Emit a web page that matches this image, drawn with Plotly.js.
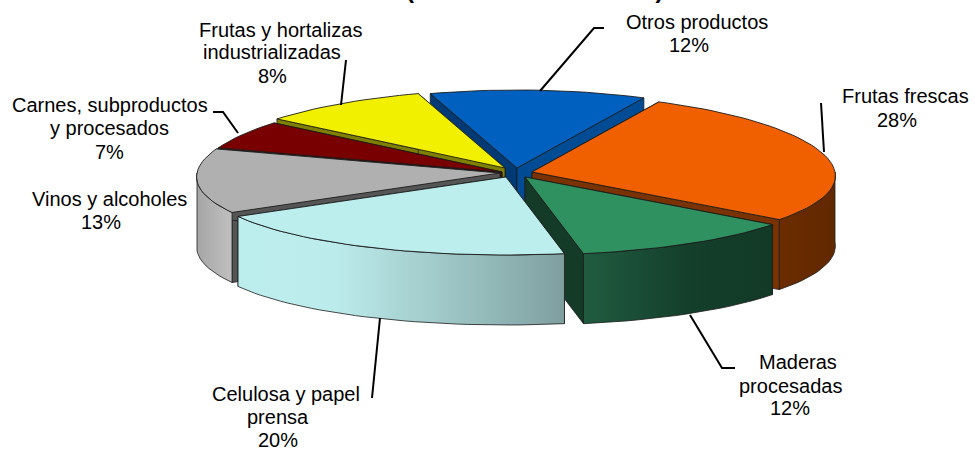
<!DOCTYPE html>
<html>
<head>
<meta charset="utf-8">
<script src="https://cdn.plot.ly/plotly-3.0.1.min.js"></script>
<style>html,body{margin:0;padding:0;background:#fff;overflow:hidden}</style>
</head>
<body>
<div id="chart" style="width:975px;height:450px"></div>
<script>
// Data, clockwise from the start of "Frutas frescas"
var categories = ["Frutas frescas","Maderas procesadas","Celulosa y papel prensa","Vinos y alcoholes","Carnes, subproductos y procesados","Frutas y hortalizas industrializadas","Otros productos"];
var values = [28,12,20,13,7,8,12];
var labelLines = [["Frutas frescas"],["Maderas","procesadas"],["Celulosa y papel","prensa"],["Vinos y alcoholes"],["Carnes, subproductos","y procesados"],["Frutas y hortalizas","industrializadas"],["Otros productos"]];
var titleText = "Valores (US$ Millones de FOB)";

// Styles
var topColors = ["#F06000","#2F9060","#BDEEEE","#B0B0B0","#780000","#F0F000","#0060BF"];
var faceColors = ["#7A3300","#133B28","#133B28","#555555","#4A0000","#808000","#003A75"];
var faceColors2 = ["#7A3300","#133B28","#7F9F9F","#555555","#4A0000","#808000","#004C94"];
var wallScales = [
  [[0,"#6B2C00"],[1,"#622800"]],
  [[0,"#205C40"],[0.55,"#143F2B"],[1,"#123A27"]],
  [[0,"#BDEEEE"],[0.3,"#BCEBEB"],[1,"#7F9F9F"]],
  [[0,"#A6A6A6"],[1,"#C0C0C0"]],
  [[0,"#4A0000"],[1,"#4A0000"]],
  [[0,"#808000"],[1,"#808000"]],
  [[0,"#003A75"],[1,"#003A75"]]
];

// Geometry of the exploded, tilted pie (pixel-aligned axes)
var apexX = [532,525,506,500,502,505,517];
var apexY = [172,177,177,173,172,168,168];
var radiusX = 303, radiusY = 78, depth = 70, perspective = 0.05, startAngle = 25;
var drawOrder = [6,5,4,3,0,1,2];
// perspective shift of each slice's end boundary, degrees
var endNudge = [1.8,0.4,-1.4,0.2,-4,0.7,1];
var startNudge = 1;

// Label and leader placement
var labelX = [[905,897],[798,790,790],[286,278,278],[109,101],[110,109,109],[280,272,272],[697,689]];
var labelY = [[96,120],[362,386,408],[394,417,440],[199,222],[105,128,152],[30,52,76],[22,45]];
var leaderX = [[821,824],[690,722,735],[380,372],[],[213,223,238],[346,341],[604,594,540]];
var leaderY = [[103,152],[315,368,368],[318,398],[],[112,112,133],[60,105],[28,28,91]];

function rim(i, deg){
  var t = deg*Math.PI/180, s = Math.sin(t), c = Math.cos(t);
  return [apexX[i] + radiusX*s*(1 - perspective*c), apexY[i] - radiusY*c];
}
function arc(i, a, b){
  var pts = [], n = Math.max(2, Math.ceil(Math.abs(b-a)/2));
  for (var k=0;k<=n;k++) pts.push(rim(i, a+(b-a)*k/n));
  return pts;
}
var total = values.reduce(function(p,v){return p+v;},0);
var starts = [], ends = [], acc = startAngle;
values.forEach(function(v,i){
  starts.push(i===0 ? acc+startNudge : ends[i-1]);
  acc += v/total*360;
  ends.push(acc+endNudge[i]);
});

var traces = [];
function poly(pts, fill, grad, lw, name){
  var t = {type:"scatter", mode:"lines", x:pts.map(function(p){return p[0];}).concat(pts[0][0]),
    y:pts.map(function(p){return p[1];}).concat(pts[0][1]), fill:"toself", fillcolor:fill,
    line:{color:"#1c1c1c", width:lw}, hoverinfo:"text", text:name, showlegend:false};
  if (grad) t.fillgradient = {type:"horizontal", colorscale:grad};
  traces.push(t);
}
function drop(pts){ return pts.map(function(p){return [p[0],p[1]+depth];}).reverse(); }

drawOrder.forEach(function(i){
  var a = starts[i], b = ends[i], name = categories[i]+" "+values[i]+"%";
  var apex = [apexX[i],apexY[i]];
  // cut faces
  [[a,faceColors[i]],[b,faceColors2[i]]].forEach(function(f){
    var edge = [apex, rim(i,f[0])];
    poly(edge.concat(drop(edge)), f[1], null, 0.8, name);
  });
  // outer wall, front-facing part only
  var lo = Math.max(a,90), hi = Math.min(b,270);
  if (hi > lo){
    var w = arc(i,lo,hi);
    poly(w.concat(drop(w)), wallScales[i][0][1], wallScales[i], 0.8, name);
  }
  // top face
  poly([apex].concat(arc(i,a,b)), topColors[i], null, 0.9, name);
});

// leader lines
leaderX.forEach(function(xs,i){
  if (!xs.length) return;
  traces.push({type:"scatter", mode:"lines", x:xs, y:leaderY[i], line:{color:"#000",width:2},
    hoverinfo:"skip", showlegend:false});
});

// labels
var annotations = [];
function note(x,y,text){
  annotations.push({xref:"x",yref:"y",x:x,y:y,text:text,showarrow:false,xanchor:"center",yanchor:"middle",
    font:{family:"Liberation Sans, Arial, sans-serif",size:20,color:"#000"}});
}
labelLines.forEach(function(lines,i){
  lines.concat([values[i]+"%"]).forEach(function(l,k){ note(labelX[i][k],labelY[i][k],l); });
});
annotations.push({xref:"x",yref:"y",x:312,y:5,text:"<b>"+titleText+"</b>",showarrow:false,xanchor:"left",yanchor:"bottom",
  font:{family:"Liberation Sans, Arial, sans-serif",size:24,color:"#000"}});

Plotly.newPlot("chart", traces, {
  width:975, height:450, margin:{l:0,r:0,t:0,b:0}, paper_bgcolor:"#fff", plot_bgcolor:"#fff",
  showlegend:false, hovermode:"closest",
  xaxis:{range:[0,975],visible:false,fixedrange:true},
  yaxis:{range:[450,0],visible:false,fixedrange:true},
  annotations:annotations
}, {displayModeBar:false, responsive:false});
</script>
</body>
</html>
